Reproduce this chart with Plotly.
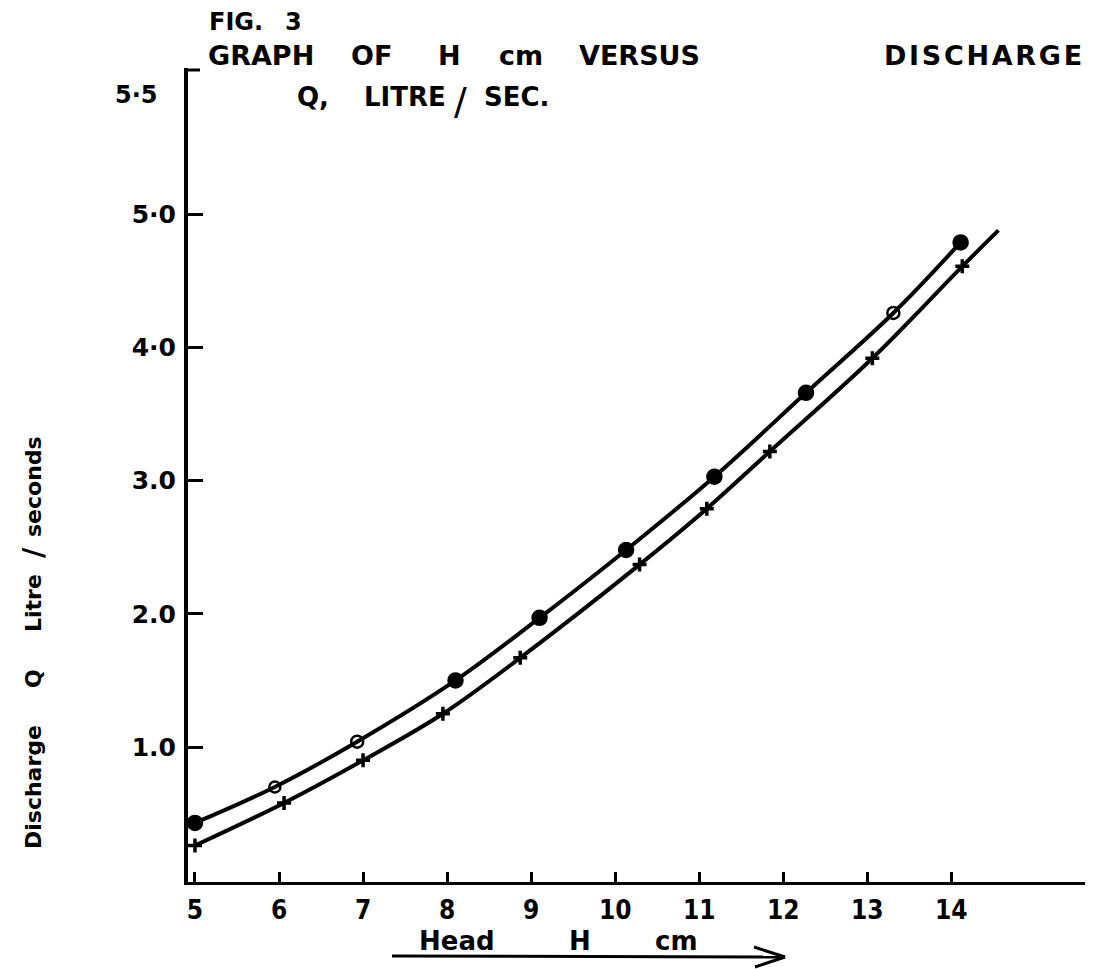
import plotly.graph_objects as go

# ---- data ----
H_circle = [5.0, 5.95, 6.93, 8.1, 9.1, 10.13, 11.18, 12.27, 13.31, 14.11]
Q_circle = [0.43, 0.70, 1.04, 1.50, 1.97, 2.48, 3.03, 3.66, 4.26, 4.79]
H_cross = [5.0, 6.06, 7.0, 7.95, 8.87, 10.29, 11.09, 11.84, 13.06, 14.13]
Q_cross = [0.26, 0.58, 0.90, 1.25, 1.67, 2.37, 2.79, 3.22, 3.92, 4.61]
curve_end_H = [14.56]
curve_end_Q = [4.88]

x_tickvals = [5, 6, 7, 8, 9, 10, 11, 12, 13, 14]
x_ticktext = ["5", "6", "7", "8", "9", "10", "11", "12", "13", "14"]
y_tickvals = [1, 2, 3, 4, 5]
y_ticktext = ["1.0", "2.0", "3.0", "4·0", "5·0"]
y_top_label = "5·5"

# ---- styles ----
circle_symbols = ["circle", "circle-open", "circle-open-dot", "circle", "circle",
                  "circle", "circle", "circle", "circle-open-dot", "circle"]
circle_sizes = [14, 11, 12, 14, 14, 14, 14, 14, 12, 14]

W, Hh = 1097, 969
L, R, T, B = 188, 12, 68, 87
PW, PH = W - L - R, Hh - T - B


def px(x):
    return (x - L) / PW


def py(y):
    return (Hh - B - y) / PH


BOLD = "DejaVu Sans"
NARROW = "Liberation Sans Narrow, DejaVu Sans Condensed, Arial Narrow, sans-serif"

fig = go.Figure()

fig.add_trace(go.Scatter(
    x=H_cross + curve_end_H, y=Q_cross + curve_end_Q, mode="lines",
    line=dict(color="black", width=4, shape="spline", smoothing=1.0),
    hoverinfo="skip", showlegend=False))
fig.add_trace(go.Scatter(
    x=H_cross, y=Q_cross, mode="markers",
    marker=dict(symbol="cross-thin", size=10, color="black", opacity=1,
                line=dict(color="black", width=3.5)),
    showlegend=False))
fig.add_trace(go.Scatter(
    x=H_circle, y=Q_circle, mode="lines+markers",
    line=dict(color="black", width=4, shape="spline", smoothing=1.0),
    marker=dict(symbol=circle_symbols, size=circle_sizes, color="black", opacity=1,
                line=dict(color="black", width=2.5)),
    showlegend=False))

annotations = []


def txt(text, x, y, size, xanchor="left", angle=0, bold=True, family=BOLD):
    annotations.append(dict(
        text=text, xref="paper", yref="paper", x=px(x), y=py(y),
        xanchor=xanchor, yanchor="middle", showarrow=False, textangle=angle,
        font=dict(family=family, size=size, color="black",
                  weight="bold" if bold else "normal")))


HS = "\u200a"  # hair space used for the wide lettering

# title block
txt("FIG.", 207, 22, 24)
txt("3", 283, 22, 24)
for word, x0 in [("GRAPH", 206), ("OF", 349), ("H", 436), ("cm", 497),
                 ("VERSUS", 577), (HS.join("DISCHARGE"), 882)]:
    txt(word, x0, 55, 27)
for word, x0 in [("Q,", 295), ("LITRE", 362), ("SEC.", 482)]:
    txt(word, x0, 97, 26)
txt("/", 452, 101, 38, bold=False)

# top axis label
txt(y_top_label, 160, 95, 24, xanchor="right")

# y axis title (rotated words)
for word, yc in [("Discharge", 787), ("Q", 679), ("Litre", 603), ("/", 553),
                 ("seconds", 487)]:
    annotations.append(dict(
        text=word, xref="paper", yref="paper", x=px(33), y=py(yc),
        xanchor="center", yanchor="middle", showarrow=False, textangle=-90,
        font=dict(family=BOLD, size=22 if word != "/" else 28, color="black",
                  weight="bold")))

# x axis title
for word, xc in [("Head", 457), ("H", 580), ("cm", 676)]:
    annotations.append(dict(
        text=word, xref="paper", yref="paper", x=px(xc), y=py(941),
        xanchor="center", yanchor="middle", showarrow=False,
        font=dict(family=BOLD, size=26, color="black", weight="bold")))

shapes = [
    # arrow under x title
    dict(type="line", xref="paper", yref="paper", x0=px(392), y0=py(956),
         x1=px(785), y1=py(957), line=dict(color="black", width=3)),
    dict(type="line", xref="paper", yref="paper", x0=px(785), y0=py(957),
         x1=px(754), y1=py(947), line=dict(color="black", width=3)),
    dict(type="line", xref="paper", yref="paper", x0=px(785), y0=py(957),
         x1=px(755), y1=py(967), line=dict(color="black", width=3)),
    # small stub at top of y axis
    dict(type="line", xref="paper", yref="paper", x0=px(187), y0=py(70),
         x1=px(200), y1=py(70), line=dict(color="black", width=3)),
]

fig.update_layout(
    width=W, height=Hh,
    margin=dict(l=L, r=R, t=T, b=B),
    paper_bgcolor="white", plot_bgcolor="white",
    showlegend=False,
    annotations=annotations, shapes=shapes,
    xaxis=dict(range=[4.917, 15.59], tickvals=x_tickvals, ticktext=x_ticktext,
               ticks="inside", ticklen=10, tickwidth=2.5, tickcolor="black",
               showline=True, linecolor="black", linewidth=3,
               showgrid=False, zeroline=False, ticklabelstandoff=3,
               tickfont=dict(family=NARROW, size=26, color="black", weight="bold")),
    yaxis=dict(range=[-0.014, 6.10], tickvals=y_tickvals, ticktext=y_ticktext,
               ticks="inside", ticklen=15, tickwidth=3, tickcolor="black",
               showline=True, linecolor="black", linewidth=4,
               showgrid=False, zeroline=False, ticklabelstandoff=3,
               tickfont=dict(family=BOLD, size=25, color="black", weight="bold")),
)

fig.write_html(
    "out.html",
    config={"displayModeBar": False},
    post_script="document.body.style.margin='0';document.body.style.padding='0';"
                "document.body.style.overflow='hidden';")
